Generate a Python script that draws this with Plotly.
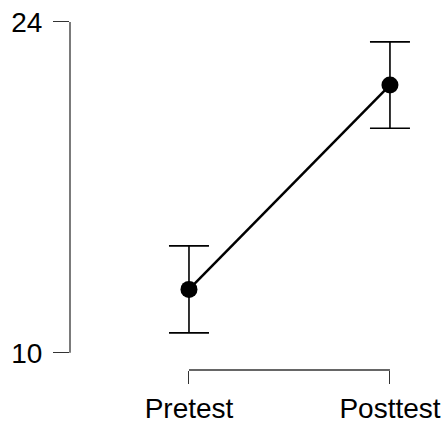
import plotly.graph_objects as go

categories = ["Pretest", "Posttest"]
means = [12.68, 21.33]
ci_half = [1.84, 1.83]
y_ticks = [10, 24]

fig = go.Figure()
fig.add_trace(go.Scatter(
    x=categories, y=means, mode="lines+markers",
    line=dict(color="black", width=2.5),
    marker=dict(color="black", size=17),
    error_y=dict(type="data", array=ci_half, visible=True, color="black",
                 thickness=1.6, width=20),
    showlegend=False, cliponaxis=False, hoverinfo="skip",
))

axis_color = "#333333"
# y-axis line spanning tick range
fig.add_shape(type="line", xref="paper", yref="y", x0=0, x1=0,
              y0=y_ticks[0], y1=y_ticks[-1], line=dict(color=axis_color, width=1.3))
# x-axis line spanning categories
fig.add_shape(type="line", xref="x", yref="paper", x0=categories[0], x1=categories[-1],
              y0=0, y1=0, line=dict(color=axis_color, width=1.3))

fig.update_xaxes(
    type="category", range=[-0.592, 1.249], showgrid=False, zeroline=False,
    showline=False, ticks="outside", ticklen=13, tickwidth=1.3, tickcolor=axis_color,
    tickfont=dict(family="Liberation Sans, Arial", size=28, color="black"),
    automargin=False,
)
fig.update_yaxes(
    range=[9.267, 24.296], tickvals=y_ticks, showgrid=False, zeroline=False,
    showline=False, ticks="outside", ticklen=16, tickwidth=1.3, tickcolor=axis_color,
    tickfont=dict(family="Liberation Sans, Arial", size=28, color="black"),
    automargin=False, ticklabelstandoff=5,
)
fig.update_layout(
    width=445, height=423, margin=dict(l=70, r=5, t=15, b=53),
    plot_bgcolor="white", paper_bgcolor="white",
)
fig.write_html(
    "out.html",
    config={"displayModeBar": False},
    post_script="document.body.style.margin='0';document.body.style.overflow='hidden';",
)
